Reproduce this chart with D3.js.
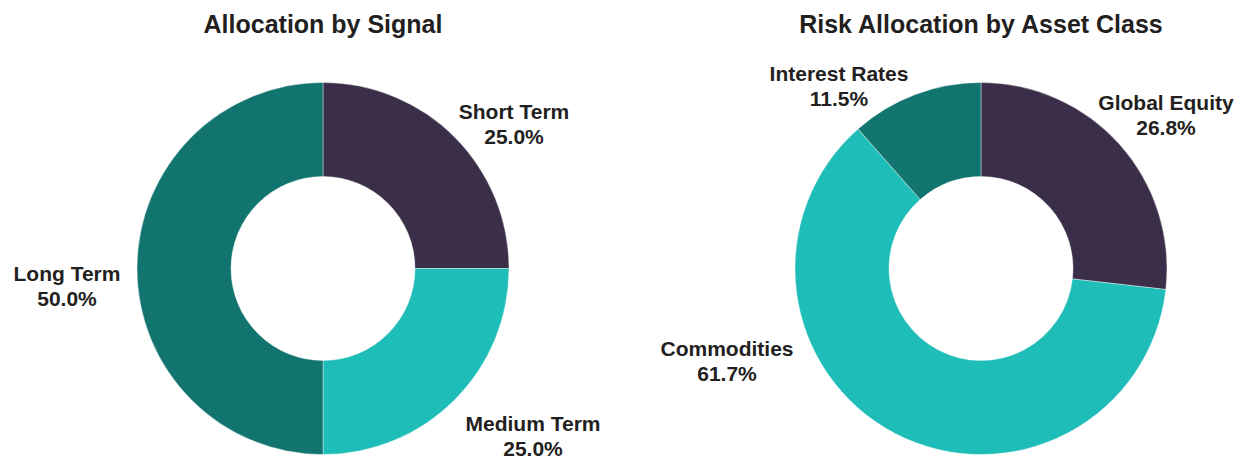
<!DOCTYPE html>
<html>
<head>
<meta charset="utf-8">
<script src="https://cdn.jsdelivr.net/npm/d3@7"></script>
<style>
  html, body { margin: 0; padding: 0; background: #ffffff; }
  svg { display: block; }
  text { font-family: "Liberation Sans", Arial, Helvetica, sans-serif; font-weight: bold; fill: #231f20; }
</style>
</head>
<body>
<svg id="chart" width="1237" height="459"></svg>
<script>
// Allocation by signal
const signalCategories = ["Short Term", "Medium Term", "Long Term"];
const signalValues = [25.0, 25.0, 50.0];

// Risk allocation by asset class
const assetCategories = ["Global Equity", "Commodities", "Interest Rates"];
const assetValues = [26.8, 61.7, 11.5];

const chartTitles = ["Allocation by Signal", "Risk Allocation by Asset Class"];

// Label placement relative to each donut centre (first-line baseline)
const signalLabelOffsets = [[191, -150], [210, 162], [-256, 12]];
const assetLabelOffsets = [[185, -159], [-254, 87], [-142, -188]];

const palette = ["#3b2e48", "#1fbdb8", "#11746f"];
const assetPalette = ["#3b2e48", "#1fbdb8", "#11746f"];

const svg = d3.select("#chart");
const outerR = 186, innerR = 92;
const lineGap = 25;

function donut(cx, cy, title, cats, vals, colors, offsets) {
  const g = svg.append("g").attr("transform", `translate(${cx},${cy})`);
  const pie = d3.pie().sort(null).value(d => d.value);
  const arc = d3.arc().innerRadius(innerR).outerRadius(outerR);
  const data = cats.map((c, i) => ({ name: c, value: vals[i], color: colors[i], off: offsets[i] }));
  const arcs = pie(data);

  g.selectAll("path.slice").data(arcs).join("path")
    .attr("class", "slice")
    .attr("d", arc)
    .attr("fill", d => d.data.color)
    .attr("stroke", "#ffffff")
    .attr("stroke-width", 0.4);

  svg.append("text")
    .attr("x", cx).attr("y", 33)
    .attr("text-anchor", "middle")
    .style("font-size", "25px")
    .text(title);

  const lbl = g.selectAll("text.lbl").data(arcs).join("text")
    .attr("class", "lbl")
    .attr("text-anchor", "middle")
    .style("font-size", "21px");
  lbl.append("tspan")
    .attr("x", d => d.data.off[0]).attr("y", d => d.data.off[1])
    .text(d => d.data.name);
  lbl.append("tspan")
    .attr("x", d => d.data.off[0]).attr("y", d => d.data.off[1] + lineGap)
    .text(d => d.data.value.toFixed(1) + "%");
}

donut(323, 268.5, chartTitles[0], signalCategories, signalValues, palette, signalLabelOffsets);
donut(981, 268.5, chartTitles[1], assetCategories, assetValues, assetPalette, assetLabelOffsets);
</script>
</body>
</html>
